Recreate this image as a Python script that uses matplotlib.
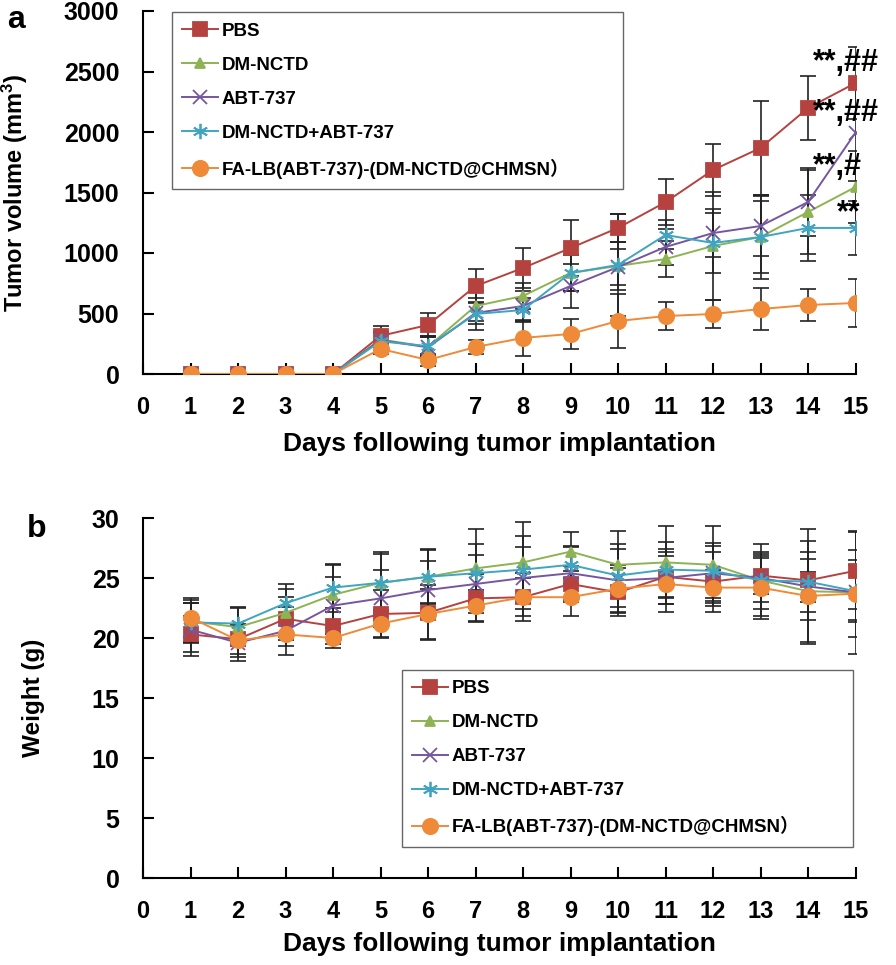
import numpy as np
import matplotlib
matplotlib.use('Agg')
import matplotlib.pyplot as plt

# =============================================================================
# data
# =============================================================================

days = [1, 2, 3, 4, 5, 6, 7, 8, 9, 10, 11, 12, 13, 14, 15]
groups = ['PBS', 'DM-NCTD', 'ABT-737', 'DM-NCTD+ABT-737',
          'FA-LB(ABT-737)-(DM-NCTD@CHMSN\uff09']

# tumor volume (mm3)
vol_pbs = [0, 0, 0, 0, 315, 405, 727, 876, 1041, 1207, 1420, 1686, 1868, 2198, 2405]
vol_dm = [0, 0, 0, 0, 285, 225, 562, 645, 835, 893, 950, 1058, 1132, 1339, 1545]
vol_abt = [0, 0, 0, 0, 280, 220, 504, 562, 727, 884, 1050, 1165, 1223, 1421, 1995]
vol_combo = [0, 0, 0, 0, 270, 230, 496, 529, 835, 901, 1149, 1083, 1132, 1207, 1207]
vol_fa = [0, 0, 0, 0, 207, 116, 223, 298, 331, 438, 479, 496, 537, 570, 587]

vol_pbs_err = [0, 0, 0, 0, 80, 100, 140, 165, 230, 115, 190, 215, 390, 265, 300]
vol_dm_err = [0, 0, 0, 0, 60, 80, 120, 110, 150, 200, 150, 450, 300, 350, 300]
vol_abt_err = [0, 0, 0, 0, 70, 90, 90, 120, 180, 150, 150, 200, 250, 280, 400]
vol_combo_err = [0, 0, 0, 0, 70, 80, 130, 100, 150, 420, 120, 250, 350, 270, 225]
vol_fa_err = [0, 0, 0, 0, 40, 50, 60, 150, 125, 220, 115, 115, 170, 130, 200]

# body weight (g)
w_pbs = [20.3, 19.9, 21.6, 21.0, 22.0, 22.1, 23.3, 23.4, 24.5, 23.8, 25.1, 24.7, 25.2, 24.8, 25.6]
w_dm = [21.4, 20.9, 22.1, 23.6, 24.6, 25.1, 25.8, 26.3, 27.2, 26.1, 26.3, 26.1, 24.8, 23.9, 23.8]
w_abt = [20.7, 19.6, 20.6, 22.7, 23.3, 24.0, 24.5, 25.0, 25.4, 24.8, 25.0, 25.4, 25.0, 24.3, 23.8]
w_combo = [21.3, 21.2, 22.9, 24.2, 24.6, 25.1, 25.4, 25.7, 26.1, 25.2, 25.7, 25.6, 24.8, 24.7, 23.9]
w_fa = [21.7, 19.8, 20.3, 20.0, 21.2, 22.0, 22.7, 23.4, 23.4, 24.1, 24.5, 24.2, 24.2, 23.5, 23.7]

w_pbs_err = [1.5, 1.2, 1.8, 1.5, 2.0, 2.3, 2.0, 2.0, 1.5, 2.0, 2.3, 2.5, 1.5, 1.8, 3.2]
w_dm_err = [1.8, 1.6, 2.0, 2.5, 2.6, 2.2, 3.3, 3.4, 1.6, 2.8, 3.0, 3.2, 3.0, 4.2, 5.1]
w_abt_err = [2.2, 1.5, 2.0, 2.4, 2.4, 2.4, 2.4, 2.6, 2.2, 2.6, 2.2, 2.3, 2.0, 4.8, 2.3]
w_combo_err = [1.6, 1.4, 1.6, 2.0, 2.4, 2.3, 2.4, 2.8, 1.6, 2.6, 2.3, 2.3, 2.4, 2.5, 2.6]
w_fa_err = [1.6, 1.4, 1.0, 0.8, 1.1, 2.1, 1.3, 1.6, 1.6, 2.0, 2.3, 1.5, 2.6, 2.0, 3.6]

# =============================================================================
# style
# =============================================================================

plt.rcParams['font.family'] = ['Liberation Sans', 'Noto Sans CJK SC', 'DejaVu Sans']
plt.rcParams['font.weight'] = 'bold'
plt.rcParams['mathtext.fontset'] = 'custom'
plt.rcParams['mathtext.bf'] = 'Liberation Sans:bold'
plt.rcParams['mathtext.rm'] = 'Liberation Sans:bold'

colors = ['#B5423F', '#8DB352', '#7656A0', '#3FA5C2', '#EE8A38']
markers = ['s', '^', 'x', (6, 2, 0), 'o']
msizes = [10, 7, 10, 11, 11]

fig = plt.figure(figsize=(8.96, 9.65), dpi=100)
ax1 = fig.add_axes([143 / 896, 1 - 374 / 965, 712.5 / 896, 363 / 965])
ax2 = fig.add_axes([143 / 896, 1 - 878 / 965, 712.5 / 896, 360 / 965])


def draw(ax, series, errs, xpad):
    for i in range(len(groups)):
        ax.errorbar(days, series[i], yerr=errs[i], fmt='none', ecolor='#222222',
                    elinewidth=1.2, capsize=5.5, capthick=1.2, zorder=2)
    for i in range(len(groups)):
        ax.plot(days, series[i], color=colors[i], lw=1.4, marker=markers[i],
                markersize=msizes[i], markerfacecolor=colors[i],
                markeredgecolor=colors[i], markeredgewidth=1.3,
                label=groups[i], zorder=3)
    ax.set_xlim(0, 15)
    ax.set_xticks(range(0, 16))
    for s in ['top', 'right']:
        ax.spines[s].set_visible(False)
    for s in ['left', 'bottom']:
        ax.spines[s].set_linewidth(1.5)
    ax.tick_params(direction='in', length=8, width=1.5)
    ax.tick_params(axis='y', pad=17, labelsize=18)
    ax.tick_params(axis='x', pad=16, labelsize=17)
    ax.set_xlabel('Days following tumor implantation', fontsize=19,
                  fontweight='bold', labelpad=xpad)


draw(ax1, [vol_pbs, vol_dm, vol_abt, vol_combo, vol_fa],
     [vol_pbs_err, vol_dm_err, vol_abt_err, vol_combo_err, vol_fa_err], 9)
ax1.set_ylim(0, 3000)
ax1.set_yticks(range(0, 3001, 500))
ax1.set_ylabel(r'Tumor volume (mm$\mathbf{^3}$)', fontsize=17, fontweight='bold')
ax1.yaxis.set_label_coords(-0.158, 0.5)

draw(ax2, [w_pbs, w_dm, w_abt, w_combo, w_fa],
     [w_pbs_err, w_dm_err, w_abt_err, w_combo_err, w_fa_err], 6)
ax2.set_ylim(0, 30)
ax2.set_yticks(range(0, 31, 5))
ax2.set_ylabel('Weight (g)', fontsize=17.5, fontweight='bold')
ax2.yaxis.set_label_coords(-0.137, 0.5)

leg_kw = dict(fontsize=13.5, frameon=True, fancybox=False, edgecolor='#404040',
              handlelength=1.9, labelspacing=0.9, borderaxespad=0,
              handletextpad=0.2, borderpad=0.55, mode='expand')
l1 = ax1.legend(loc='upper left', bbox_to_anchor=(0.0407, 0.0, 0.633, 0.997), **leg_kw)
l2 = ax2.legend(loc='upper left', bbox_to_anchor=(0.3635, 0.0, 0.633, 0.578), **leg_kw)
for lg in (l1, l2):
    lg.get_frame().set_linewidth(1.0)
    lg.set_zorder(1)

# significance marks
ax1.text(14.1, 2570, '**,##', fontsize=22, fontweight='bold', va='center', clip_on=False)
ax1.text(14.1, 2157, '**,##', fontsize=22, fontweight='bold', va='center', clip_on=False)
ax1.text(14.1, 1711, '**,#', fontsize=22, fontweight='bold', va='center', clip_on=False)
ax1.text(14.6, 1331, '**', fontsize=22, fontweight='bold', va='center', clip_on=False)

fig.text(7 / 896, 1 - 28 / 965, 'a', fontsize=23, fontweight='bold', va='baseline')
fig.text(27 / 896, 1 - 537 / 965, 'b', fontsize=23, fontweight='bold', va='baseline')

fig.savefig('out.png', dpi=100)
